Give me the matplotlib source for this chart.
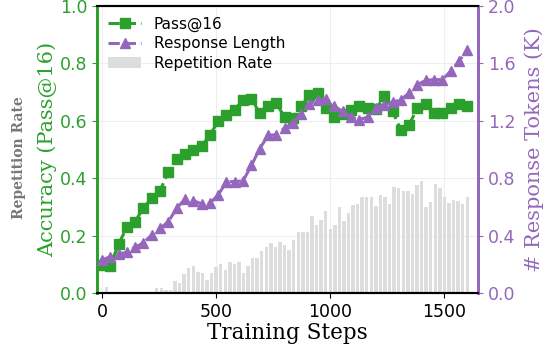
import numpy as np
import matplotlib
matplotlib.use("Agg")
import matplotlib.pyplot as plt

# step values for the marker series (45 points) and the bar series (81 bars)
steps = np.linspace(0, 1600, 45)
bar_steps = np.arange(0, 1601, 20)

pass16 = [0.098, 0.095, 0.171, 0.229, 0.249, 0.298, 0.330, 0.357, 0.423, 0.468,
          0.484, 0.499, 0.511, 0.551, 0.598, 0.619, 0.639, 0.674, 0.677, 0.627,
          0.650, 0.662, 0.612, 0.610, 0.650, 0.691, 0.697, 0.645, 0.612, 0.624,
          0.639, 0.650, 0.645, 0.641, 0.685, 0.633, 0.569, 0.586, 0.645, 0.660,
          0.627, 0.627, 0.645, 0.660, 0.650]

resp_len = [0.230, 0.254, 0.272, 0.284, 0.319, 0.351, 0.405, 0.451, 0.498, 0.591,
            0.654, 0.644, 0.621, 0.626, 0.684, 0.775, 0.777, 0.782, 0.889, 1.005,
            1.098, 1.103, 1.150, 1.185, 1.247, 1.317, 1.347, 1.354, 1.301, 1.266,
            1.226, 1.208, 1.226, 1.289, 1.312, 1.329, 1.347, 1.394, 1.452, 1.482,
            1.487, 1.487, 1.545, 1.615, 1.692]

rep_rate = [0.0, 0.022, 0.0, 0.0, 0.0, 0.0, 0.0, 0.005, 0.0, 0.0,
            0.0, 0.0, 0.019, 0.019, 0.010, 0.012, 0.043, 0.034, 0.065, 0.086,
            0.094, 0.074, 0.069, 0.045, 0.071, 0.090, 0.101, 0.079, 0.107, 0.102,
            0.108, 0.069, 0.096, 0.123, 0.123, 0.148, 0.160, 0.176, 0.159, 0.179,
            0.169, 0.151, 0.184, 0.213, 0.214, 0.213, 0.269, 0.237, 0.253, 0.286,
            0.222, 0.236, 0.299, 0.250, 0.279, 0.306, 0.310, 0.334, 0.334, 0.334,
            0.304, 0.342, 0.336, 0.311, 0.371, 0.365, 0.357, 0.357, 0.344, 0.377,
            0.389, 0.299, 0.317, 0.380, 0.365, 0.336, 0.315, 0.325, 0.319, 0.311,
            0.334]

green = '#2ca02c'
purple = '#9467bd'

fig = plt.figure(figsize=(5.49, 3.51), dpi=100)
ax = fig.add_axes([0.177, 0.165, 0.694, 0.818])
ax2 = ax.twinx()

bars = ax.bar(bar_steps, rep_rate, width=15, color='#dddddd', zorder=1,
              label='Repetition Rate')
l1, = ax.plot(steps, pass16, color=green, linestyle='--', linewidth=2.2,
              marker='s', markersize=7, zorder=3, label='Pass@16')
l2, = ax2.plot(steps, resp_len, color=purple, linestyle='--', linewidth=2.2,
               marker='^', markersize=7, zorder=3, label='Response Length')

ax.set_xlim(-21, 1648)
ax.set_ylim(0, 1.0)
ax2.set_ylim(0, 2.0)
ax.set_xticks([0, 500, 1000, 1500])
ax.set_yticks(np.arange(0, 1.01, 0.2))
ax2.set_yticks(np.arange(0, 2.01, 0.4))
ax.grid(True, color='#eeeeee', linewidth=0.8, zorder=0)
ax.set_axisbelow(True)

ax.tick_params(axis='y', colors=green, labelsize=12.5)
ax.tick_params(axis='x', labelsize=12.5)
ax2.tick_params(axis='y', colors=purple, labelsize=12.5)
ax.set_yticklabels([f'{v:.1f}' for v in np.arange(0, 1.01, 0.2)])
ax2.set_yticklabels([f'{v:.1f}' for v in np.arange(0, 2.01, 0.4)])

for a in (ax, ax2):
    a.spines['left'].set_color(green)
    a.spines['left'].set_linewidth(2)
    a.spines['right'].set_color(purple)
    a.spines['right'].set_linewidth(2)
    a.spines['top'].set_linewidth(1.5)
    a.spines['bottom'].set_linewidth(1.5)

ax.set_xlabel('Training Steps', family='DejaVu Serif', fontsize=15.5, labelpad=1)
ax.set_ylabel('Accuracy (Pass@16)', family='DejaVu Serif', fontsize=15,
              color=green, labelpad=2)
ax2.set_ylabel('# Response Tokens (K)', family='DejaVu Serif', fontsize=15,
               color=purple, labelpad=6)
fig.text(0.035, 0.55, 'Repetition Rate', family='DejaVu Serif', fontsize=10,
         fontweight='bold', color='#777777', rotation=90, ha='center', va='center')

ax2.legend([l1, l2, bars], ['Pass@16', 'Response Length', 'Repetition Rate'],
           loc='upper left', frameon=False, fontsize=11, borderaxespad=0.3,
           handlelength=2.2, labelspacing=0.3)

fig.savefig('out.png', dpi=100)
